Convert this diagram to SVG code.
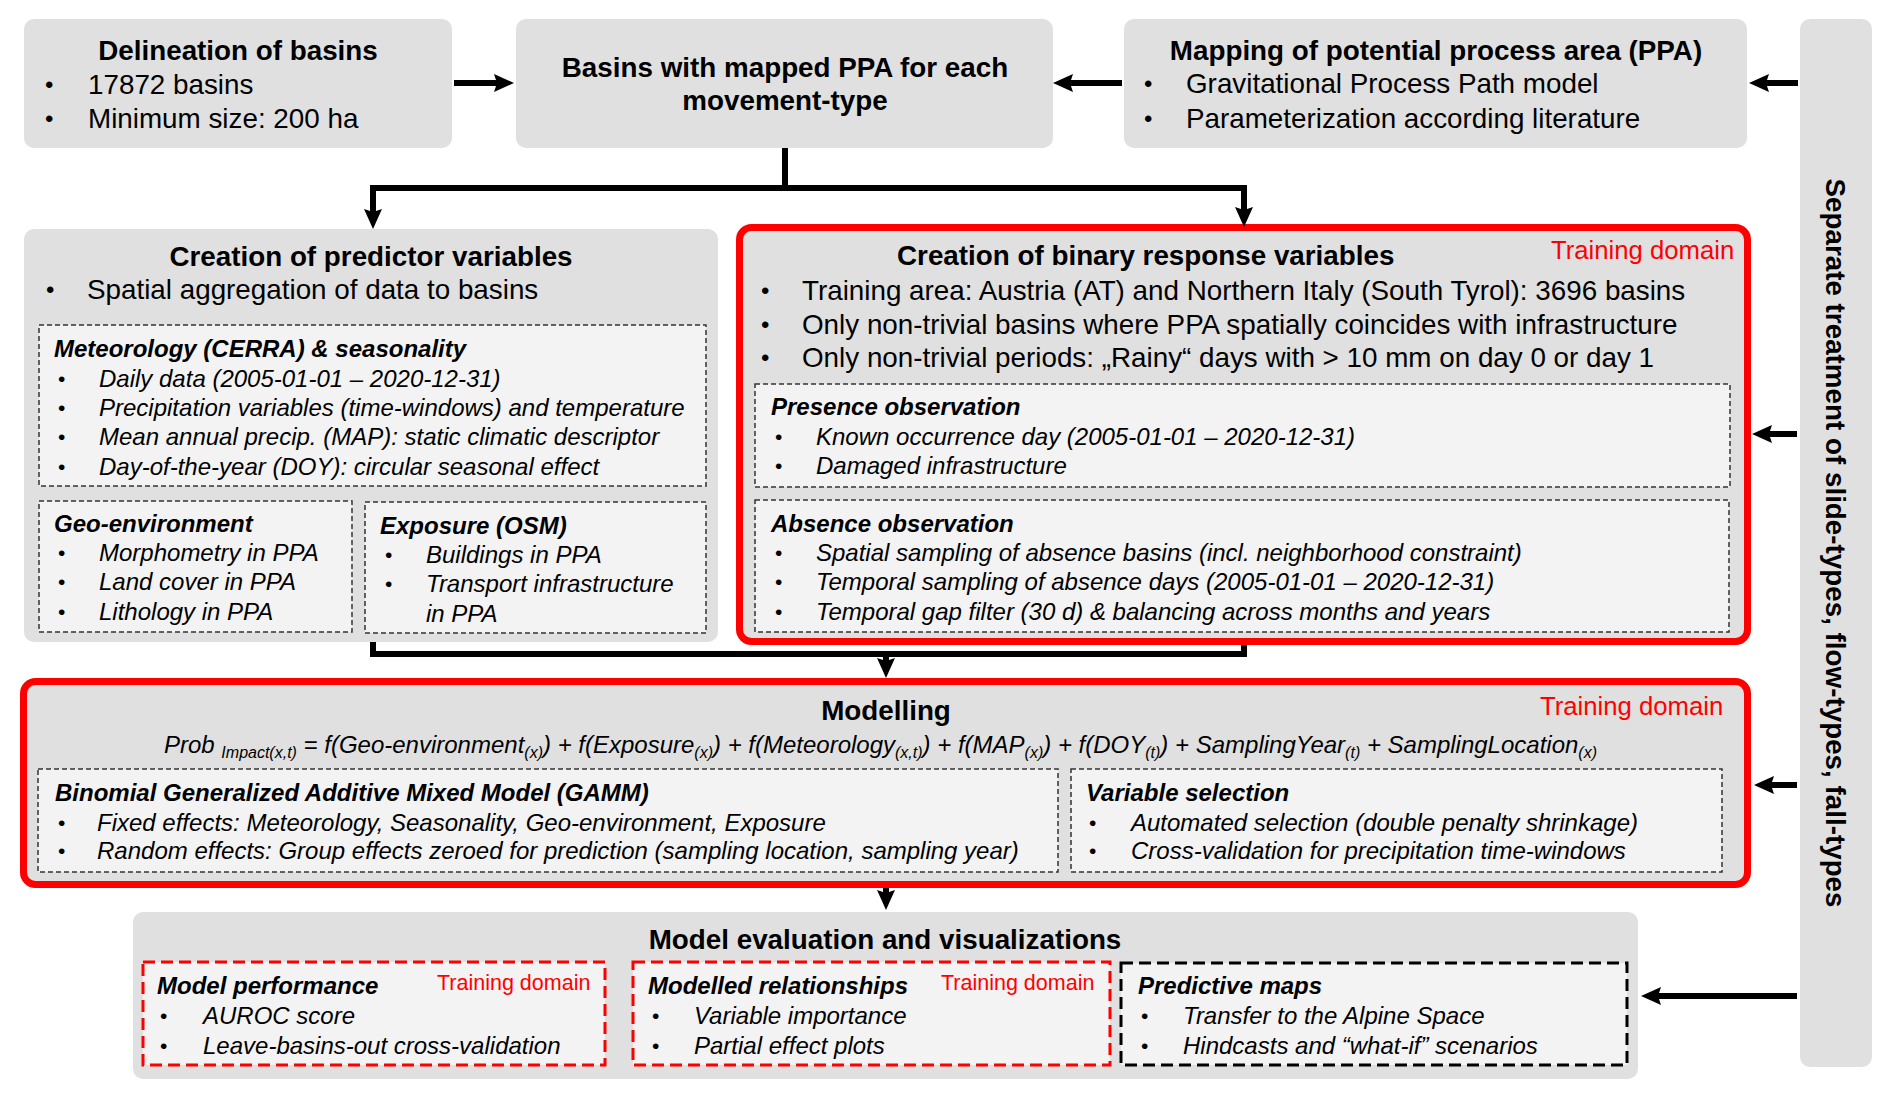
<svg xmlns="http://www.w3.org/2000/svg" width="1892" height="1099" viewBox="0 0 1892 1099">
<style>
text{font-family:"Liberation Sans",Arial,sans-serif;fill:#000}
.h{font-weight:bold;font-size:27.8px}
.hc{font-weight:bold;font-size:27.8px;text-anchor:middle}
.b{font-size:27.8px}
.bu{font-size:24px}
.s{font-size:24px;font-style:italic}
.sb{font-size:21px}
.sh{font-size:24px;font-style:italic;font-weight:bold}
.td{fill:#ff0000;font-size:25.7px}
.td2{fill:#ff0000;font-size:21.5px}
.box{fill:#e0e0e0}
.red{fill:#e0e0e0;stroke:#ff0000;stroke-width:7}
.dash{fill:#f3f3f3;stroke:#333;stroke-width:1.5;stroke-dasharray:5 3}
.rdash{fill:#f3f3f3;stroke:#ff0000;stroke-width:3;stroke-dasharray:12 6}
.kdash{fill:#f3f3f3;stroke:#000;stroke-width:3;stroke-dasharray:12 6}
.c{fill:none;stroke:#000;stroke-width:6}
</style>
<defs>
<marker id="ah" markerWidth="20" markerHeight="18" refX="8" refY="9" orient="auto" markerUnits="userSpaceOnUse">
<path d="M0,0 L20,9 L0,18 L3,9 Z" fill="#000"/>
</marker>
</defs>

<g id="side">
<rect class="box" x="1800" y="19" width="72" height="1048" rx="10"/>
<text class="h" text-anchor="middle" transform="translate(1826,543) rotate(90)">Separate treatment of slide-types, flow-types, fall-types</text>
</g>

<g id="delineation">
<rect class="box" x="24" y="19" width="428" height="129" rx="10"/>
<text class="hc" x="238" y="60">Delineation of basins</text>
<text class="bu" x="45" y="93">•</text><text class="b" x="88" y="94">17872 basins</text>
<text class="bu" x="45" y="127">•</text><text class="b" x="88" y="128">Minimum size: 200 ha</text>
</g>

<g id="basins">
<rect class="box" x="516" y="19" width="537" height="129" rx="10"/>
<text class="hc" x="785" y="77">Basins with mapped PPA for each</text>
<text class="hc" x="785" y="110">movement-type</text>
</g>

<g id="mapping">
<rect class="box" x="1124" y="19" width="623" height="129" rx="10"/>
<text class="hc" x="1436" y="60">Mapping of potential process area (PPA)</text>
<text class="bu" x="1144" y="92">•</text><text class="b" x="1186" y="93">Gravitational Process Path model</text>
<text class="bu" x="1144" y="127">•</text><text class="b" x="1186" y="128">Parameterization according literature</text>
</g>

<g id="predictors">
<rect class="box" x="24" y="229" width="694" height="413" rx="10"/>
<text class="hc" x="371" y="266">Creation of predictor variables</text>
<text class="bu" x="46" y="298">•</text><text class="b" x="87" y="299">Spatial aggregation of data to basins</text>
<rect class="dash" x="39" y="325" width="667" height="161"/>
<text class="sh" x="54" y="357">Meteorology (CERRA) &amp; seasonality</text>
<text class="sb" x="58" y="386">•</text><text class="s" x="99" y="387">Daily data (2005-01-01 – 2020-12-31)</text>
<text class="sb" x="58" y="415">•</text><text class="s" x="99" y="416">Precipitation variables (time-windows) and temperature</text>
<text class="sb" x="58" y="444">•</text><text class="s" x="99" y="445">Mean annual precip. (MAP): static climatic descriptor</text>
<text class="sb" x="58" y="474">•</text><text class="s" x="99" y="475">Day-of-the-year (DOY): circular seasonal effect</text>
<rect class="dash" x="39" y="501" width="313" height="131"/>
<text class="sh" x="54" y="532">Geo-environment</text>
<text class="sb" x="58" y="560">•</text><text class="s" x="99" y="561">Morphometry in PPA</text>
<text class="sb" x="58" y="589">•</text><text class="s" x="99" y="590">Land cover in PPA</text>
<text class="sb" x="58" y="619">•</text><text class="s" x="99" y="620">Lithology in PPA</text>
<rect class="dash" x="365" y="502" width="341" height="131"/>
<text class="sh" x="380" y="534">Exposure (OSM)</text>
<text class="sb" x="385" y="562">•</text><text class="s" x="426" y="563">Buildings in PPA</text>
<text class="sb" x="385" y="591">•</text><text class="s" x="426" y="592">Transport infrastructure</text>
<text class="s" x="426" y="622">in PPA</text>
</g>

<g id="response">
<rect class="red" x="739.5" y="227.5" width="1008" height="414" rx="12"/>
<text class="h" x="897" y="265">Creation of binary response variables</text>
<text class="td" x="1551" y="259">Training domain</text>
<text class="bu" x="761" y="299">•</text><text class="b" x="802" y="300">Training area: Austria (AT) and Northern Italy (South Tyrol): 3696 basins</text>
<text class="bu" x="761" y="333">•</text><text class="b" x="802" y="334">Only non-trivial basins where PPA spatially coincides with infrastructure</text>
<text class="bu" x="761" y="366">•</text><text class="b" x="802" y="367">Only non-trivial periods: „Rainy“ days with &gt; 10 mm on day 0 or day 1</text>
<rect class="dash" x="755" y="384" width="975" height="103"/>
<text class="sh" x="771" y="415">Presence observation</text>
<text class="sb" x="775" y="444">•</text><text class="s" x="816" y="445">Known occurrence day (2005-01-01 – 2020-12-31)</text>
<text class="sb" x="775" y="473">•</text><text class="s" x="816" y="474">Damaged infrastructure</text>
<rect class="dash" x="755" y="500" width="974" height="132"/>
<text class="sh" x="771" y="532">Absence observation</text>
<text class="sb" x="775" y="560">•</text><text class="s" x="816" y="561">Spatial sampling of absence basins (incl. neighborhood constraint)</text>
<text class="sb" x="775" y="589">•</text><text class="s" x="816" y="590">Temporal sampling of absence days (2005-01-01 – 2020-12-31)</text>
<text class="sb" x="775" y="619">•</text><text class="s" x="816" y="620">Temporal gap filter (30 d) &amp; balancing across months and years</text>
</g>

<g id="modelling">
<rect class="red" x="23.5" y="681.5" width="1724" height="203" rx="12"/>
<text class="hc" x="886" y="720">Modelling</text>
<text class="td" x="1540" y="715">Training domain</text>
<text class="s" x="164" y="753" textLength="1433" lengthAdjust="spacingAndGlyphs">Prob <tspan font-size="16" dy="5">Impact(x,t)</tspan><tspan dy="-5"> = f(Geo-environment</tspan><tspan font-size="16" dy="5">(x)</tspan><tspan dy="-5">) + f(Exposure</tspan><tspan font-size="16" dy="5">(x)</tspan><tspan dy="-5">) + f(Meteorology</tspan><tspan font-size="16" dy="5">(x,t)</tspan><tspan dy="-5">) + f(MAP</tspan><tspan font-size="16" dy="5">(x)</tspan><tspan dy="-5">) + f(DOY</tspan><tspan font-size="16" dy="5">(t)</tspan><tspan dy="-5">) + SamplingYear</tspan><tspan font-size="16" dy="5">(t)</tspan><tspan dy="-5"> + SamplingLocation</tspan><tspan font-size="16" dy="5">(x)</tspan></text>
<rect class="dash" x="38" y="769" width="1020" height="103"/>
<text class="sh" x="55" y="801">Binomial Generalized Additive Mixed Model (GAMM)</text>
<text class="sb" x="58" y="830">•</text><text class="s" x="97" y="831">Fixed effects: Meteorology, Seasonality, Geo-environment, Exposure</text>
<text class="sb" x="58" y="858">•</text><text class="s" x="97" y="859">Random effects: Group effects zeroed for prediction (sampling location, sampling year)</text>
<rect class="dash" x="1071" y="769" width="651" height="103"/>
<text class="sh" x="1086" y="801">Variable selection</text>
<text class="sb" x="1089" y="830">•</text><text class="s" x="1131" y="831">Automated selection (double penalty shrinkage)</text>
<text class="sb" x="1089" y="858">•</text><text class="s" x="1131" y="859">Cross-validation for precipitation time-windows</text>
</g>

<g id="evaluation">
<rect class="box" x="133" y="912" width="1505" height="167" rx="10"/>
<text class="hc" x="885" y="949">Model evaluation and visualizations</text>
<rect class="rdash" x="143" y="962" width="462" height="103"/>
<text class="sh" x="157" y="994">Model performance</text>
<text class="td2" x="437" y="990">Training domain</text>
<text class="sb" x="160" y="1023">•</text><text class="s" x="203" y="1024">AUROC score</text>
<text class="sb" x="160" y="1053">•</text><text class="s" x="203" y="1054">Leave-basins-out cross-validation</text>
<rect class="rdash" x="633" y="962" width="477" height="103"/>
<text class="sh" x="648" y="994">Modelled relationships</text>
<text class="td2" x="941" y="990">Training domain</text>
<text class="sb" x="652" y="1023">•</text><text class="s" x="694" y="1024">Variable importance</text>
<text class="sb" x="652" y="1053">•</text><text class="s" x="694" y="1054">Partial effect plots</text>
<rect class="kdash" x="1121" y="963" width="506" height="102"/>
<text class="sh" x="1138" y="994">Predictive maps</text>
<text class="sb" x="1141" y="1023">•</text><text class="s" x="1183" y="1024">Transfer to the Alpine Space</text>
<text class="sb" x="1141" y="1053">•</text><text class="s" x="1183" y="1054">Hindcasts and “what-if” scenarios</text>
</g>

<g id="connectors">
<path class="c" d="M454,83 H502" marker-end="url(#ah)"/>
<path class="c" d="M1122,83 H1065" marker-end="url(#ah)"/>
<path class="c" d="M1798,83 H1761" marker-end="url(#ah)"/>
<path class="c" d="M785,148 V188"/>
<path class="c" d="M370,188 H1247"/>
<path class="c" d="M373,188 V217" marker-end="url(#ah)"/>
<path class="c" d="M1244,188 V215" marker-end="url(#ah)"/>
<path class="c" d="M373,642 V654 H1244 V645"/>
<path class="c" d="M886,654 V666" marker-end="url(#ah)"/>
<path class="c" d="M886,888 V898" marker-end="url(#ah)"/>
<path class="c" d="M1797,434 H1764" marker-end="url(#ah)"/>
<path class="c" d="M1797,785 H1766" marker-end="url(#ah)"/>
<path class="c" d="M1797,996 H1653" marker-end="url(#ah)"/>
</g>
</svg>
